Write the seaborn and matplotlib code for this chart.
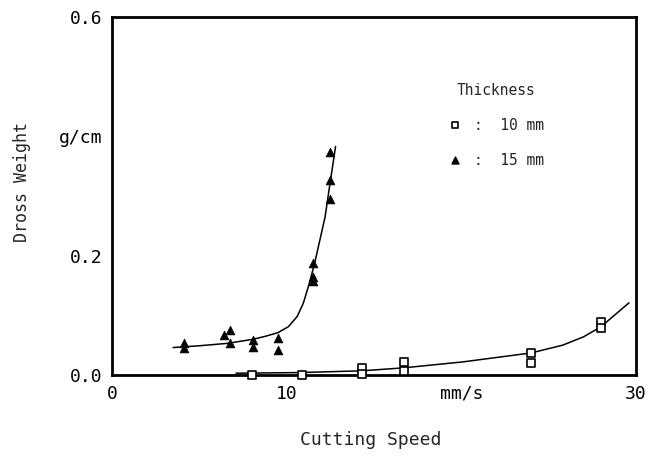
import seaborn as sns
import matplotlib.pyplot as plt
import pandas as pd

# measured points, thickness 15 mm (triangles)
speed_15 = [4.1, 4.1, 6.4, 6.75, 6.75, 8.05, 8.05, 9.5, 9.5, 11.5, 11.5, 11.5, 12.5, 12.5, 12.5]
dross_15 = [0.053, 0.045, 0.067, 0.075, 0.053, 0.059, 0.047, 0.062, 0.042, 0.187, 0.165, 0.157, 0.295, 0.327, 0.373]

# measured points, thickness 10 mm (squares)
speed_10 = [8.0, 10.9, 14.3, 14.3, 16.7, 16.7, 24.0, 24.0, 28.0, 28.0]
dross_10 = [0.0, 0.0, 0.011, 0.002, 0.022, 0.007, 0.037, 0.020, 0.089, 0.078]

# fitted curves
fit_15_x = [3.5, 5.0, 6.6, 8.1, 8.8, 9.5, 10.1, 10.6, 10.95, 11.3, 11.6, 11.9, 12.2, 12.4, 12.6, 12.8]
fit_15_y = [0.046, 0.049, 0.053, 0.060, 0.065, 0.071, 0.081, 0.098, 0.120, 0.154, 0.187, 0.226, 0.265, 0.305, 0.344, 0.383]
fit_10_x = [7.1, 10.6, 14.3, 16.7, 20.1, 24.0, 25.8, 27.0, 28.0, 29.6]
fit_10_y = [0.003, 0.004, 0.007, 0.012, 0.022, 0.037, 0.050, 0.064, 0.081, 0.121]

x_ticks = [0, 10, 20, 30]
x_ticklabels = ["0", "10", "mm/s", "30"]
y_ticks = [0.0, 0.2, 0.4, 0.6]
y_ticklabels = ["0.0", "0.2", "g/cm", "0.6"]

sns.set_style("white")
plt.rcParams['font.family'] = ['DejaVu Sans Mono']

fig = plt.figure(figsize=(6.49, 4.57), dpi=100)
ax = fig.add_axes([112 / 649, 1 - 375 / 457, 524 / 649, 358 / 457])

df15 = pd.DataFrame({"x": speed_15, "y": dross_15})
df10 = pd.DataFrame({"x": speed_10, "y": dross_10})

sns.lineplot(x=fit_15_x, y=fit_15_y, color="black", lw=1.1, ax=ax, sort=False)
sns.lineplot(x=fit_10_x, y=fit_10_y, color="black", lw=1.1, ax=ax, sort=False)
sns.scatterplot(data=df15, x="x", y="y", marker="^", s=40, color="black",
                edgecolor="black", ax=ax, clip_on=False, zorder=3)
sns.scatterplot(data=df10, x="x", y="y", marker="s", s=40, facecolor="white",
                edgecolor="black", linewidth=1.2, ax=ax, clip_on=False, zorder=3)

ax.set_xlim(0, 30)
ax.set_ylim(0, 0.6)
ax.set_xticks(x_ticks)
ax.set_xticklabels(x_ticklabels)
ax.set_yticks(y_ticks)
ax.set_yticklabels(y_ticklabels)
ax.tick_params(direction="in", length=4, width=1.2, labelsize=13, pad=7, colors="black")
for sp in ax.spines.values():
    sp.set_visible(True)
    sp.set_linewidth(2)
    sp.set_color("black")

ax.set_xlabel("")
ax.set_ylabel("")
fig.text(371 / 649, 1 - 440 / 457, "Cutting Speed", ha="center", va="center", fontsize=13)
fig.text(22 / 649, 1 - 182 / 457, "Dross Weight", ha="center", va="center", rotation=90, fontsize=12)

# legend block
ax.text(0.658, 0.796, "Thickness", transform=ax.transAxes, fontsize=10.5, ha="left", va="center")
ax.scatter([0.655], [0.698], marker="s", s=22, facecolor="white", edgecolor="black",
           linewidth=1.2, transform=ax.transAxes)
ax.text(0.69, 0.698, ":  10 mm", transform=ax.transAxes, fontsize=10.5, ha="left", va="center")
ax.scatter([0.655], [0.600], marker="^", s=25, color="black", transform=ax.transAxes)
ax.text(0.69, 0.600, ":  15 mm", transform=ax.transAxes, fontsize=10.5, ha="left", va="center")

fig.savefig("out.png", dpi=100)
